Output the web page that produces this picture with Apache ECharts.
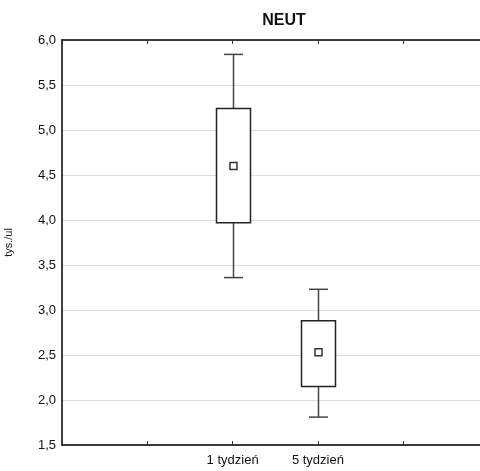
<!DOCTYPE html>
<html>
  <head>
    <meta charset="utf-8" />
    <title>NEUT</title>
    <script src="https://cdn.jsdelivr.net/npm/echarts@6/dist/echarts.min.js"></script>
  </head>
  <body style="margin:0">
    <div id="main" style="width: 480px;height:471px;"></div>
    <script type="text/javascript">
      // kategorie (puste pozycje to wolne miejsce na osi, jak w oryginale)
      var categories = ['', '', '1 tydzień', '5 tydzień', '', ''];
      // min, Q1, mediana, Q3, max
      var whiskerLow = [3.36, 1.81];
      var boxLow = [3.97, 2.15];
      var medians = [4.60, 2.53];
      var boxHigh = [5.24, 2.88];
      var whiskerHigh = [5.84, 3.23];
      var catIndex = [2, 3];

      var boxData = [];
      for (var i = 0; i < catIndex.length; i++) {
        boxData.push([catIndex[i], whiskerLow[i], boxLow[i], medians[i], boxHigh[i], whiskerHigh[i]]);
      }

      function renderBox(params, api) {
        var x = api.value(0);
        var pLow = api.coord([x, api.value(1)]);
        var pQ1 = api.coord([x, api.value(2)]);
        var pMed = api.coord([x, api.value(3)]);
        var pQ3 = api.coord([x, api.value(4)]);
        var pHigh = api.coord([x, api.value(5)]);
        var cx = Math.round(pMed[0]) + 0.5;
        var bw = 34, cw = 19, ms = 7;
        var lineStyle = { stroke: '#444', lineWidth: 1.5, fill: null };
        return {
          type: 'group',
          children: [
            { type: 'line', shape: { x1: cx, y1: pHigh[1], x2: cx, y2: pQ3[1] }, style: lineStyle },
            { type: 'line', shape: { x1: cx, y1: pQ1[1], x2: cx, y2: pLow[1] }, style: lineStyle },
            { type: 'line', shape: { x1: cx - cw / 2, y1: pHigh[1], x2: cx + cw / 2, y2: pHigh[1] }, style: lineStyle },
            { type: 'line', shape: { x1: cx - cw / 2, y1: pLow[1], x2: cx + cw / 2, y2: pLow[1] }, style: lineStyle },
            { type: 'rect', shape: { x: cx - bw / 2, y: pQ3[1], width: bw, height: pQ1[1] - pQ3[1] },
              style: { stroke: '#222', lineWidth: 1.5, fill: '#fff' } },
            { type: 'rect', shape: { x: cx - ms / 2, y: pMed[1] - ms / 2, width: ms, height: ms },
              style: { stroke: '#333', lineWidth: 1.5, fill: '#fff' } }
          ]
        };
      }

      var myChart = echarts.init(document.getElementById('main'));
      var option = {
        backgroundColor: '#fff',
        animation: false,
        textStyle: { fontFamily: 'Liberation Sans, Arial, sans-serif' },
        title: {
          text: 'NEUT',
          left: 279,
          top: 8,
          textAlign: 'center',
          textStyle: { fontSize: 16, fontWeight: 'bold', color: '#111' }
        },
        grid: { left: 62, top: 40, width: 426.5, height: 405, outerBoundsMode: 'none' },
        xAxis: [{
          type: 'category',
          data: categories,
          boundaryGap: false,
          position: 'bottom',
          axisLine: { lineStyle: { color: '#000', width: 1.5 } },
          axisTick: { inside: true, length: 4, lineStyle: { color: '#333' } },
          axisLabel: { color: '#111', fontSize: 13, margin: 9, interval: 0, showMinLabel: false },
          splitLine: { show: false }
        }, {
          type: 'category',
          data: categories,
          boundaryGap: false,
          position: 'top',
          axisLine: { lineStyle: { color: '#000', width: 1.5 } },
          axisTick: { inside: true, length: 4, lineStyle: { color: '#333' } },
          axisLabel: { show: false },
          splitLine: { show: false }
        }],
        yAxis: {
          type: 'value',
          min: 1.5,
          max: 6.0,
          interval: 0.5,
          name: 'tys./ul',
          nameLocation: 'middle',
          nameGap: 48,
          nameTextStyle: { color: '#111', fontSize: 11 },
          axisLine: { show: true, lineStyle: { color: '#000', width: 1.5 } },
          axisTick: { show: false },
          axisLabel: {
            color: '#111',
            fontSize: 13,
            margin: 6,
            formatter: function (v) { return v.toFixed(1).replace('.', ','); }
          },
          splitLine: { lineStyle: { color: '#ddd', width: 1 } }
        },
        series: [{
          type: 'custom',
          renderItem: renderBox,
          encode: { x: 0, y: [1, 2, 3, 4, 5] },
          data: boxData,
          z: 10
        }]
      };
      myChart.setOption(option);
    </script>
  </body>
</html>
